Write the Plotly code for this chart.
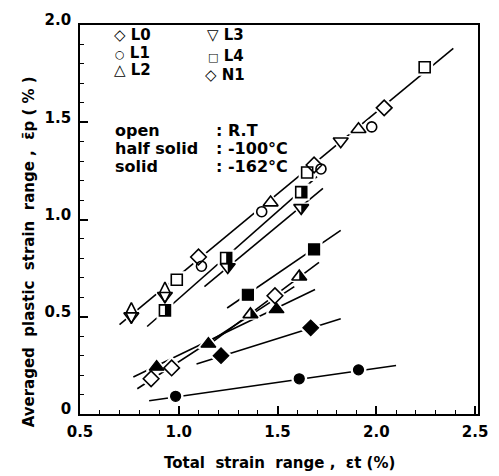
import plotly.graph_objects as go

# ---------------- data ----------------
# open symbols (R.T)
L0_open_x = [0.76, 0.93]
L0_open_y = [0.519, 0.624]
L1_open_x = [1.115, 1.42, 1.72, 1.977]
L1_open_y = [0.76, 1.04, 1.26, 1.476]
L2_open_x = [1.465, 1.91]
L2_open_y = [1.087, 1.464]
L3_open_x = [0.76, 0.93, 1.82]
L3_open_y = [0.503, 0.608, 1.402]
L4_open_x = [0.99, 1.65, 2.245]
L4_open_y = [0.69, 1.242, 1.783]
N1_open_x = [1.10, 1.685, 2.04, 0.86, 0.964, 1.487]
N1_open_y = [0.807, 1.28, 1.574, 0.181, 0.237, 0.608]

# half solid symbols (-100 C)
L4_half_x = [0.93, 1.24, 1.62]
L4_half_y = [0.533, 0.802, 1.141]
L3_half_x = [1.248, 1.62]
L3_half_y = [0.756, 1.06]
L2_half_x = [1.363, 1.61]
L2_half_y = [0.512, 0.706]

# solid symbols (-162 C)
L4_solid_x = [1.35, 1.685]
L4_solid_y = [0.613, 0.846]
L2_solid_x = [0.888, 1.15, 1.495]
L2_solid_y = [0.242, 0.36, 0.538]
N1_solid_x = [1.214, 1.668]
N1_solid_y = [0.30, 0.443]
L1_solid_x = [0.984, 1.61, 1.91]
L1_solid_y = [0.091, 0.181, 0.227]

# fitted lines: start/end
line_x0 = [0.70, 0.84, 1.13, 1.245, 1.17, 0.79, 0.77, 1.09, 0.85]
line_y0 = [0.46, 0.45, 0.655, 0.545, 0.37, 0.13, 0.19, 0.257, 0.068]
line_x1 = [2.39, 1.70, 1.73, 1.82, 1.71, 1.585, 1.69, 1.82, 2.10]
line_y1 = [1.88, 1.22, 1.16, 0.944, 0.78, 0.655, 0.64, 0.49, 0.249]

# axis ticks
x_tickvals = [0.5, 1.0, 1.5, 2.0, 2.5]
x_ticktext = ["0.5", "1.0", "1.5", "2.0", "2.5"]
y_tickvals = [0, 0.5, 1.0, 1.5, 2.0]
y_ticktext = ["0", "0.5", "1.0", "1.5", "2.0"]

# ---------------- figure ----------------
W, H = 499, 476
ML, MR, MT, MB = 80, 11, 20, 62
FONT = "DejaVu Sans"

fig = go.Figure()

for x0, y0, x1, y1 in zip(line_x0, line_y0, line_x1, line_y1):
    fig.add_trace(go.Scatter(x=[x0, x1], y=[y0, y1], mode="lines",
                             line=dict(color="black", width=1.6),
                             showlegend=False, hoverinfo="skip"))

SIZES = {"diamond-tall": 15, "circle": 10, "triangle-up": 13,
         "triangle-down": 13, "square": 11, "diamond": 12}

series = [
    (L0_open_x, L0_open_y, "diamond-tall", "open"),
    (L3_open_x, L3_open_y, "triangle-down", "open"),
    (L1_open_x, L1_open_y, "circle", "open"),
    (L2_open_x, L2_open_y, "triangle-up", "open"),
    (L4_open_x, L4_open_y, "square", "open"),
    (N1_open_x, N1_open_y, "diamond", "open"),
    (L4_half_x, L4_half_y, "square", "half"),
    (L3_half_x, L3_half_y, "triangle-down", "half"),
    (L2_half_x, L2_half_y, "triangle-up", "half"),
    (L4_solid_x, L4_solid_y, "square", "solid"),
    (L2_solid_x, L2_solid_y, "triangle-up", "solid"),
    (N1_solid_x, N1_solid_y, "diamond", "solid"),
    (L1_solid_x, L1_solid_y, "circle", "solid"),
]

# white halos to break the lines around the symbols
for xs, ys, sym, kind in series:
    s = SIZES[sym]
    fig.add_trace(go.Scatter(x=xs, y=ys, mode="markers",
                             marker=dict(symbol=sym, size=s + 4, color="white",
                                         line=dict(color="white", width=2)),
                             showlegend=False, hoverinfo="skip"))

for xs, ys, sym, kind in series:
    s = SIZES[sym]
    if kind == "solid":
        mk = dict(symbol=sym, size=s, color="black", line=dict(color="black", width=1.2))
    else:
        mk = dict(symbol=sym + "-open", size=s, color="black", line=dict(color="black", width=1.6))
    fig.add_trace(go.Scatter(x=xs, y=ys, mode="markers", marker=mk,
                             showlegend=False, hoverinfo="skip"))

# right half filled for the half solid symbols
def half_path(sym, s):
    r = s / 2
    if sym == "square":
        return f"M0,{-r} L{r},{-r} L{r},{r} L0,{r} Z"
    rt = r * 2 / 3 ** 0.5
    if sym == "triangle-down":
        return f"M0,{r/2} L{rt:.2f},{r/2} L0,{-r} Z"
    return f"M0,{-r/2} L{rt:.2f},{-r/2} L0,{r} Z"

shapes = []
for xs, ys, sym, kind in series:
    if kind != "half":
        continue
    for x, y in zip(xs, ys):
        shapes.append(dict(type="path", xref="x", yref="y", xsizemode="pixel",
                           ysizemode="pixel", xanchor=x, yanchor=y,
                           path=half_path(sym, SIZES[sym]), fillcolor="black",
                           line=dict(width=0), layer="above"))

def px2paper(px, py):
    return (px - ML) / (W - ML - MR), (H - MB - py) / (H - MT - MB)

annots = []
def txt(px, py, text, size=16, anchor="left", angle=0, bold=True):
    xp, yp = px2paper(px, py)
    annots.append(dict(x=xp, y=yp, xref="paper", yref="paper", text=text,
                       showarrow=False, xanchor=anchor, yanchor="middle",
                       textangle=angle,
                       font=dict(family=FONT, size=size, color="black",
                                 weight="bold" if bold else "normal")))

small = '<span style="font-size:11px">{}</span>'
legend_items = [("◇ L0", 113, 30), (small.format("○") + " L1", 114, 48),
                ("△ L2", 113, 66), ("▽ L3", 208, 30),
                (small.format("□") + " L4", 209, 51), ("◇ N1", 206, 71)]
for t, px, py in legend_items:
    txt(px, py, t, size=15)

cond = [("open", ": R.T", 127), ("half solid", ": -100°C", 145), ("solid", ": -162°C", 163)]
for lab, val, py in cond:
    txt(114, py, lab, size=16)
    txt(217, py, val, size=16)

txt(28, 250, "Averaged  plastic  strain  range ,  ε̄p ( % )", size=15, anchor="center", angle=-90)
txt(285, 464, "Total  strain  range ,  εt (%)", size=15, anchor="center")

axis_common = dict(showline=True, linecolor="black", linewidth=1.6, mirror=True,
                   ticks="inside", ticklen=8, tickwidth=1.5, tickcolor="black",
                   showgrid=False, zeroline=False,
                   tickfont=dict(family=FONT, size=15, color="black", weight="bold"),
                   minor=dict(ticks="inside", ticklen=4, tickwidth=1.2,
                              tickcolor="black", dtick=0.1, showgrid=False))

fig.update_xaxes(range=[0.5, 2.515], tickvals=x_tickvals, ticktext=x_ticktext,
                 ticklabelstandoff=3, **axis_common)
fig.update_yaxes(range=[0, 2.0], tickvals=y_tickvals, ticktext=y_ticktext,
                 ticklabelshift=-5, ticklabelstandoff=4, **axis_common)

fig.update_layout(width=W, height=H, margin=dict(l=ML, r=MR, t=MT, b=MB),
                  paper_bgcolor="white", plot_bgcolor="white",
                  shapes=shapes, annotations=annots, showlegend=False)

fig.write_html("out.html")
